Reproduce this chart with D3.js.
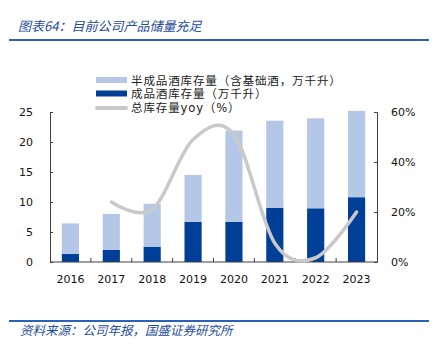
<!DOCTYPE html>
<html><head><meta charset="utf-8">
<script src="https://cdn.jsdelivr.net/npm/d3@7"></script>
<style>body{margin:0;background:#fff}svg{display:block}</style>
</head><body>
<script>
const years = ["2016","2017","2018","2019","2020","2021","2022","2023"];
const finished = [1.33, 2.0, 2.55, 6.67, 6.7, 9.05, 8.95, 10.8];
const semi = [5.1, 6.0, 7.15, 7.85, 15.2, 14.5, 15.0, 14.4];
const yoy = [null, 24, 21, 49, 51, 7.5, 1.7, 20];
const leftTicks = [0, 5, 10, 15, 20, 25];
const rightTicks = [0, 0.2, 0.4, 0.6];
const legendLabels = ["半成品酒库存量（含基础酒，万千升）", "成品酒库存量（万千升）", "总库存量yoy（%）"];
const titleText = "图表64：目前公司产品储量充足";
const sourceText = "资料来源：公司年报，国盛证券研究所";

const W = 441, H = 349;
const cLight = "#b4c7e7", cDark = "#003f98", cGrey = "#c9c9c9", cBlue = "#1f4e9a", cAxis = "#404040";
const svg = d3.select("body").append("svg").attr("width", W).attr("height", H);

const x = d3.scaleBand().domain(years).range([50, 377]).paddingInner(0.58).paddingOuter(0.29);
const yL = d3.scaleLinear().domain([0, 25]).range([262, 112]);
const yR = d3.scaleLinear().domain([0, 0.6]).range([262, 112]);

// title
svg.append("text").attr("x", 18).attr("y", 31).text(titleText)
  .attr("font-family", "'Noto Sans CJK SC'").attr("font-size", 13).attr("font-style", "italic").attr("fill", cBlue);
svg.append("line").attr("x1", 9).attr("x2", 429).attr("y1", 40).attr("y2", 40).attr("stroke", "#2a62b5").attr("stroke-width", 2);
svg.append("line").attr("x1", 9).attr("x2", 429).attr("y1", 321).attr("y2", 321).attr("stroke", "#2a62b5").attr("stroke-width", 2);
svg.append("text").attr("x", 20).attr("y", 335).text(sourceText)
  .attr("font-family", "'Noto Sans CJK SC'").attr("font-size", 12.5).attr("font-style", "italic").attr("fill", cBlue);

// bars
const g = svg.append("g");
g.selectAll(".fin").data(years).join("rect")
  .attr("x", d => x(d)).attr("width", x.bandwidth())
  .attr("y", (d, i) => yL(finished[i])).attr("height", (d, i) => yL(0) - yL(finished[i]))
  .attr("fill", cDark);
g.selectAll(".semi").data(years).join("rect")
  .attr("x", d => x(d)).attr("width", x.bandwidth())
  .attr("y", (d, i) => yL(finished[i] + semi[i])).attr("height", (d, i) => yL(finished[i]) - yL(finished[i] + semi[i]))
  .attr("fill", cLight);

// axes
const font = "'DejaVu Sans'";
const axL = d3.axisLeft(yL).tickValues(leftTicks).tickSize(-3).tickPadding(17);
const gl = svg.append("g").attr("transform", "translate(50,0)").call(axL);
const axR = d3.axisRight(yR).tickValues(rightTicks).tickSize(-3).tickPadding(14).tickFormat(d3.format(".0%"));
const gr = svg.append("g").attr("transform", "translate(377,0)").call(axR);
const axB = d3.axisBottom(x).tickSize(0).tickPadding(13);
const gb = svg.append("g").attr("transform", "translate(0,262)").call(axB);
const bounds = years.slice(1).map(d => x(d) - x.step() * x.paddingInner() / 2);
gb.selectAll(".bt").data(bounds).join("line").attr("x1", d => d).attr("x2", d => d)
  .attr("y1", 0).attr("y2", -4).attr("stroke", cAxis);
gb.select(".domain").attr("d", "M50,0H377");
[gl, gr, gb].forEach(a => {
  a.select(".domain").attr("stroke", cAxis);
  a.selectAll(".tick line").attr("stroke", cAxis);
  a.selectAll("text").attr("font-family", font).attr("font-size", 11).attr("fill", "#111");
});

// line
const pts = years.map((d, i) => [x(d) + x.bandwidth() / 2, yoy[i]]).filter(p => p[1] !== null);
const line = d3.line().x(p => p[0]).y(p => yR(p[1] / 100)).curve(d3.curveCardinal.tension(0));
svg.append("path").attr("d", line(pts)).attr("fill", "none").attr("stroke", cGrey).attr("stroke-width", 3.5).attr("stroke-linecap", "round");

// legend
const lg = svg.append("g");
lg.append("rect").attr("x", 96).attr("y", 77).attr("width", 31).attr("height", 6).attr("fill", cLight);
lg.append("rect").attr("x", 96).attr("y", 90.5).attr("width", 31).attr("height", 6).attr("fill", cDark);
lg.append("line").attr("x1", 97).attr("x2", 126).attr("y1", 108).attr("y2", 108).attr("stroke", cGrey).attr("stroke-width", 4).attr("stroke-linecap", "round");
lg.selectAll("text").data(legendLabels).join("text")
  .attr("x", 131).attr("y", (d, i) => 84.5 + i * 13.7).text(d => d)
  .attr("font-family", "'DejaVu Sans', 'Noto Sans CJK SC'").attr("font-size", 11.6).attr("letter-spacing", 0.8).attr("fill", "#222");
</script>
</body></html>
